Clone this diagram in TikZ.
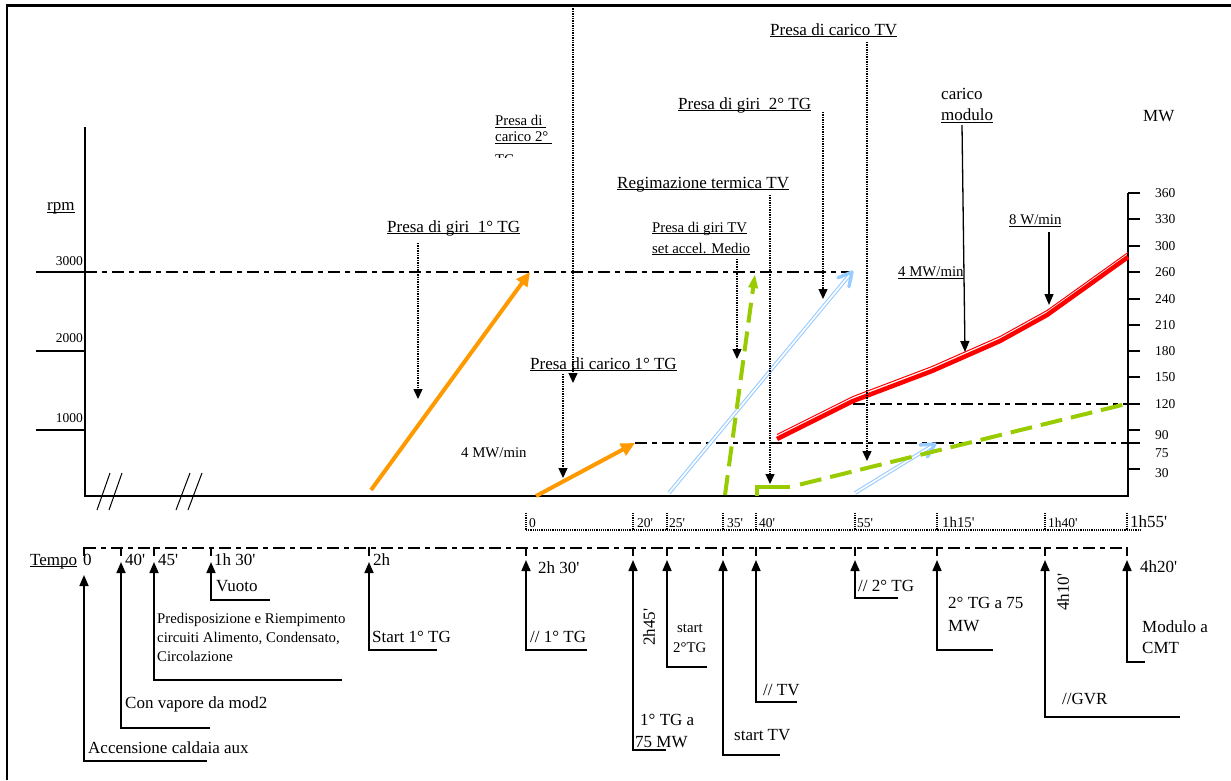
\documentclass[tikz,border=0pt]{standalone}
\usepackage{fontspec}
\setmainfont{Liberation Serif}
\usepackage{tikz}
\usetikzlibrary{arrows.meta,calc}

\definecolor{arancio}{RGB}{255,153,0}
\definecolor{celeste}{RGB}{153,204,255}
\definecolor{verde}{RGB}{153,204,0}
\definecolor{rosso}{RGB}{255,0,0}

\newcommand{\ul}[1]{\underline{\smash{#1}}}
\newcommand{\pr}{\textquotesingle}
\newcommand{\curvacarico}{(777,439) -- (853,401) -- (932,371) -- (1000,341) -- (1047,315) -- (1128,257)}

\begin{document}
\begin{tikzpicture}[x=1pt,y=-1pt,inner sep=0pt,
                    every node/.style={anchor=base west},
                    big/.style={font=\fontsize{17}{20}\selectfont},
                    mid/.style={font=\fontsize{14.8}{19}\selectfont},
                    sml/.style={font=\fontsize{13.5}{15}\selectfont},
                    axis/.style={line width=2.6pt},
                    tick/.style={line width=2pt},
                    dashdot/.style={line width=2pt,dash pattern=on 12pt off 5pt on 5pt off 5pt},
                    ptick/.style={line width=1.2pt,dash pattern=on 1.2pt off 1pt},
                    ptr/.style={line width=1.3pt,dash pattern=on 1.3pt off 1.1pt,-{Triangle[length=10pt,width=9pt]}},
                    sptr/.style={line width=1.3pt,-{Triangle[length=11pt,width=9pt]}},
                    evt/.style={line width=1.6pt,-{Triangle[length=11pt,width=9pt]}},
                    freccia/.style={celeste,line width=1.1pt,double=white,double distance=1.6pt},
                    punta/.style={celeste,line width=3.4pt,line cap=round,line join=round}]
    \useasboundingbox (0,0) rectangle (1231,780);

    % cornice
    \draw [line width=2pt] (7,780) -- (7,5);
    \draw [line width=3pt] (6,5) -- (1231,5);

    % assi e scale
    \draw [axis] (85,127) -- (85,496) -- (1128,496) -- (1128,193);
    \draw [tick] (36,272) -- (85,272);
    \draw [tick] (36,351) -- (85,351);
    \draw [tick] (36,430) -- (85,430);
    \node at (47,210.5) (rpm)   [big] {\ul{rpm}};
    \node at (83,265)   (r3000) [sml,anchor=base east] {3000};
    \node at (83,342)   (r2000) [sml,anchor=base east] {2000};
    \node at (83,422)   (r1000) [sml,anchor=base east] {1000};
    \draw [line width=1pt] (97,510) -- (110,473) (109,510) -- (122,473)
                           (176,510) -- (190,473) (188,510) -- (202,473);
    \foreach \v/\yt/\yl in {360/193/197, 330/219/223, 300/246/250, 260/272/276,
                            240/299/303, 210/325/329, 180/351/355, 150/377/381,
                            120/404/408, 90/430/439, 75/443/457, 30/469/477}{
        \draw [tick] (1128,\yt) -- (1140,\yt);
        \node at (1155,\yl) (mw\v) [sml] {\v};
    }
    \node at (1143,121) (mw) [big] {MW};

    \draw [dashdot] (85,272) -- (855,272);
    \draw [dashdot] (635,443) -- (1128,443);
    \draw [dashdot] (853,404) -- (1128,404);

    % curve
    \draw [arancio, line width=4pt, -{Triangle[length=14pt,width=13pt]}] (371,490) -- (530,272);
    \draw [arancio, line width=4pt, -{Triangle[length=14pt,width=13pt]}] (536,496) -- (635,443);
    \coordinate (b1s) at (669,493); \coordinate (b1t) at (852,272);
    \coordinate (b2s) at (855,493); \coordinate (b2t) at (935,444);
    \draw [freccia] (b1s) -- ($(b1t)!2pt!(b1s)$);
    \draw [punta] ($(b1t)!15pt!28:(b1s)$) -- (b1t) -- ($(b1t)!15pt!-28:(b1s)$);
    \draw [freccia] (b2s) -- ($(b2t)!2pt!(b2s)$);
    \draw [punta] ($(b2t)!15pt!28:(b2s)$) -- (b2t) -- ($(b2t)!15pt!-28:(b2s)$);
    \draw [verde, line width=4pt, dash pattern=on 20pt off 9pt,
           -{Triangle[length=14pt,width=9pt]}] (725,495) -- (755,274);
    \draw [verde, line width=4pt] (757,496) -- (757,487) -- (790,487);
    \draw [verde, line width=4pt, dash pattern=on 22pt off 9pt] (800,484.5) -- (1130,403);
    \draw [rosso, line width=4.5pt] \curvacarico;
    \draw [rosso, line width=1pt, yshift=4.5pt] \curvacarico;

    % etichette del grafico
    \node at (770,35)    (caricotv) [big] {\ul{Presa di carico TV}};
    \node at (678,109)   (giri2)    [big] {\ul{Presa di giri\ \ 2° TG}};
    \node at (495,125.5) (cc2a)     [mid] {\ul{Presa di\ }};
    \node at (495,141.5) (cc2b)     [mid] {\ul{carico 2°\ }};
    \begin{scope}
        \clip (490,150) rectangle (560,157.5);
        \node at (495,164) (cc2c) [mid] {TG};
    \end{scope}
    \node at (941,99)    (carico)   [big] {carico};
    \node at (941,120.5) (modulo)   [big] {\ul{modulo}};
    \node at (617,188)   (regim)    [big] {\ul{Regimazione termica TV}};
    \node at (652,232)   (giritv)   [mid] {\ul{Presa di giri TV}};
    \node at (652,253)   (accel)    [mid] {\ul{set accel. Medio}};
    \node at (1009,224.5) (w8)      [mid] {\ul{8 W/min}};
    \node at (387,232)   (giri1)    [big] {\ul{Presa di giri\ \ 1° TG}};
    \node at (898,276.5) (mw4a)     [mid] {\ul{4 MW/min}};
    \node at (530,369)   (carico1)  [big] {\ul{Presa di carico 1° TG}};
    \node at (461,457)   (mw4b)     [mid] {4 MW/min};

    % richiami
    \coordinate (g1a)  at (418,243);  \coordinate (g1b)  at (418,399);
    \coordinate (c2a)  at (573,6);    \coordinate (c2b)  at (573,383);
    \coordinate (c1a)  at (563,374);  \coordinate (c1b)  at (563,478);
    \coordinate (gtva) at (737,259);  \coordinate (gtvb) at (737,359);
    \coordinate (rga)  at (770,195);  \coordinate (rgb)  at (770,484);
    \coordinate (g2a)  at (823,112);  \coordinate (g2b)  at (823,299);
    \coordinate (ctva) at (867,42);   \coordinate (ctvb) at (867,461);
    \coordinate (mda)  at (962,125);  \coordinate (mdb)  at (965,352);
    \coordinate (w8a)  at (1049,232); \coordinate (w8b)  at (1049,305);
    \draw [ptr] (g1a) -- (g1b);
    \draw [ptr] (c2a) -- (c2b);
    \draw [ptr] (c1a) -- (c1b);
    \draw [ptr] (gtva) -- (gtvb);
    \draw [ptr] (rga) -- (rgb);
    \draw [ptr] (g2a) -- (g2b);
    \draw [ptr] (ctva) -- (ctvb);
    \draw [sptr] (mda) -- (mdb);
    \draw [sptr] (w8a) -- (w8b);

    % scala dei minuti
    \draw [ptick] (526,530) -- (1140,530);
    \foreach \x in {526,633,667,723,756,855,937,1045,1127}
        \draw [ptick] (\x,513) -- (\x,530);
    \node at (529,527)  (m0)   [sml] {0};
    \node at (637,527)  (m20)  [sml] {20\pr};
    \node at (669,527)  (m25)  [sml] {25\pr};
    \node at (727,527)  (m35)  [sml] {35\pr};
    \node at (759,527)  (m40)  [sml] {40\pr};
    \node at (857,527)  (m55)  [sml] {55\pr};
    \node at (942,527)  (m75)  [mid] {1h15\pr};
    \node at (1048,527) (m100) [sml] {1h40\pr};
    \node at (1130,527) (m115) [big] {1h55\pr};

    % asse dei tempi
    \draw [dashdot] (84,548) -- (1127,548);
    \foreach \x in {84,121,154,211,369,526,633,667,723,756,855,937,1045,1127}
        \draw [tick] (\x,547) -- (\x,556);
    \foreach \x/\yt/\yb/\xe in {84/575/761/207, 121/562/728/210, 154/562/680/342,
                                211/562/600/270, 369/562/650/437, 526/560/650/587,
                                633/560/750/666, 667/560/667/707, 723/560/755/780,
                                756/560/702/797, 855/560/598/898, 937/560/650/993,
                                1045/560/717/1180, 1127/560/662/1145}
        \draw [evt] (\xe,\yb) -- (\x,\yb) -- (\x,\yt);

    \node at (30,565)   (tempo)   [big] {\ul{Tempo}\hspace{6pt}0};
    \node at (125,565)  (t40)     [big] {40\pr};
    \node at (158,565)  (t45)     [big] {45\pr};
    \node at (214,565)  (t130)    [big] {1h 30\pr};
    \node at (216,591)  (vuoto)   [big] {Vuoto};
    \node at (157,613.5) (predisp) [mid,anchor=north west,align=left]
        {Predisposizione e Riempimento\\circuiti Alimento, Condensato,\\Circolazione};
    \node at (373,565)  (t2h)     [big] {2h};
    \node at (372,642)  (start1)  [big] {Start 1° TG};
    \node at (125,708)  (vapore)  [big] {Con vapore da mod2};
    \node at (88,753)   (caldaia) [big] {Accensione caldaia aux};
    \node at (538,573)  (t230)    [big] {2h 30\pr};
    \node at (530,642)  (par1)    [big] {// 1° TG};
    \node at (649,627)  (t245)    [big,rotate=90,anchor=center] {2h45\pr};
    \node at (640,725)  (tg1a)    [big] {1° TG a};
    \node at (635,747)  (tg1b)    [big] {75 MW};
    \node at (677,632)  (st2a)    [mid] {start};
    \node at (673,652)  (st2b)    [mid] {2°TG};
    \node at (734,740)  (sttv)    [big] {start TV};
    \node at (763,695)  (partv)   [big] {// TV};
    \node at (858,591)  (par2)    [big] {// 2° TG};
    \node at (948,608)  (tg2a)    [big] {2° TG a 75};
    \node at (948,631)  (tg2b)    [big] {MW};
    \node at (1062,704) (gvr)     [big] {//GVR};
    \node at (1063,592) (t410)    [big,rotate=90,anchor=center] {4h10\pr};
    \node at (1140,572) (t420)    [big] {4h20\pr};
    \node at (1142,632) (cmta)    [big] {Modulo a};
    \node at (1142,653) (cmtb)    [big] {CMT};
\end{tikzpicture}
\end{document}
